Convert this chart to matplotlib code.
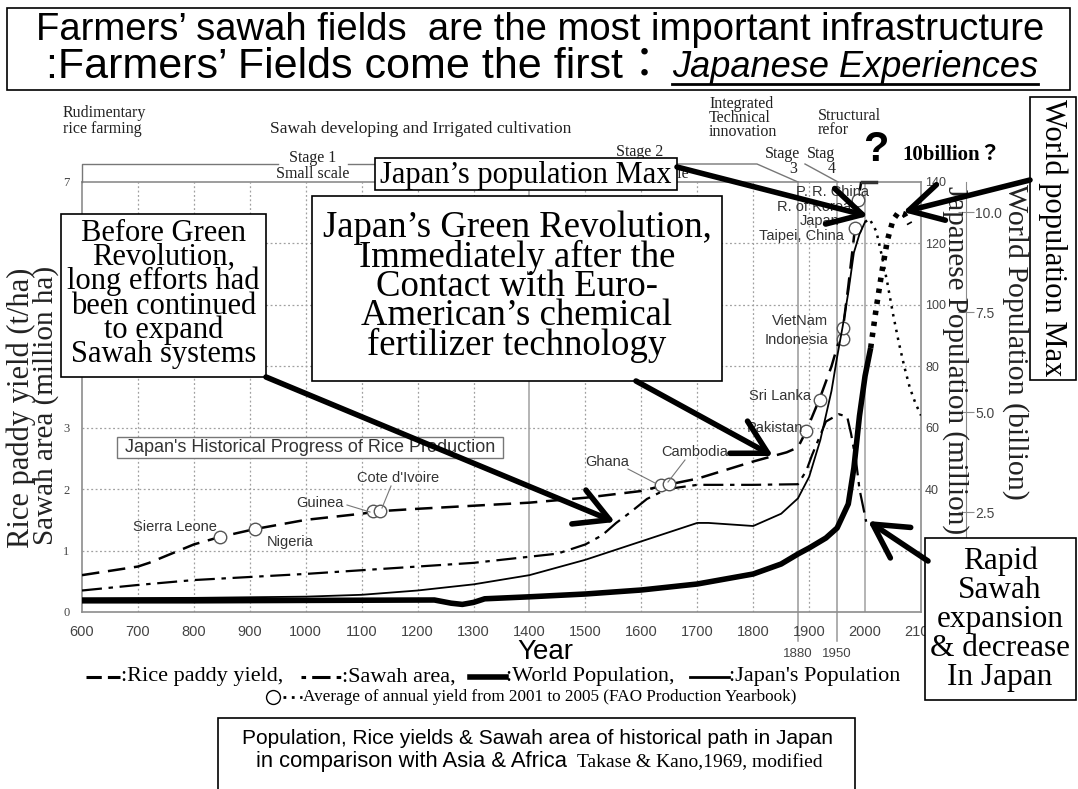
import numpy as np
import matplotlib.pyplot as plt
from matplotlib.patches import Rectangle

W, H = 1078, 789

# Japan rice paddy yield (t/ha)
yield_year = [600, 700, 720, 760, 800, 846, 909, 1000, 1100, 1130, 1200, 1300, 1400, 1500,
              1600, 1640, 1700, 1800, 1860, 1880, 1895, 1920, 1940, 1961, 1970, 1982, 1988, 1993]
yield_t = [0.6, 0.74, 0.8, 0.95, 1.1, 1.22, 1.35, 1.5, 1.6, 1.64, 1.68, 1.73, 1.78, 1.86,
           1.97, 2.06, 2.17, 2.45, 2.6, 2.68, 2.95, 3.5, 4.0, 4.65, 5.3, 6.25, 6.7, 7.0]

# sawah area (million ha)
area_year = [600, 700, 800, 900, 1000, 1100, 1200, 1300, 1370, 1450, 1500, 1530, 1555, 1580,
             1610, 1645, 1700, 1800, 1880, 1895, 1905, 1930, 1953, 1968, 1975, 1984, 1990, 2002]
area_mha = [0.35, 0.44, 0.52, 0.57, 0.62, 0.68, 0.74, 0.8, 0.87, 0.95, 1.1, 1.25, 1.45, 1.62,
            1.84, 2.0, 2.07, 2.07, 2.08, 2.3, 2.55, 3.1, 3.22, 3.18, 2.9, 2.45, 2.0, 1.47]

# Japan's population (million)
jp_year = [600, 800, 1000, 1100, 1200, 1300, 1400, 1500, 1550, 1600, 1650, 1700, 1720, 1800,
           1850, 1880, 1900, 1920, 1940, 1950, 1960, 1970, 1980, 1990, 2000]
jp_pop = [4.5, 4.6, 5.0, 5.6, 7.0, 9.0, 12, 17, 20, 23, 26, 29, 29, 28,
          32, 37, 44, 56, 72, 83, 93, 104, 117, 123, 127]
jp_proj_year = [2000, 2008, 2020, 2030, 2040, 2050, 2060, 2070, 2080, 2090, 2100]
jp_proj_pop = [127, 128, 124, 116, 107, 97, 88, 80, 73, 68, 64]

# world population (billion)
world_year = [600, 800, 1000, 1230, 1260, 1280, 1300, 1320, 1400, 1500, 1600, 1700, 1800,
              1850, 1880, 1900, 1930, 1950, 1970, 1980, 1990, 2000, 2010]
world_pop = [0.28, 0.28, 0.29, 0.30, 0.22, 0.19, 0.24, 0.33, 0.38, 0.45, 0.55, 0.7, 0.95,
             1.2, 1.45, 1.6, 1.85, 2.1, 2.7, 3.6, 4.9, 5.9, 6.6]
world_proj_year = [2010, 2020, 2030, 2040, 2050, 2060, 2070, 2080]
world_proj_pop = [6.6, 7.6, 8.5, 9.3, 9.8, 10.0, 9.95, 9.7]

# FAO 2001-2005 average yields placed on Japan's curve
fao_year = [846, 909, 1121, 1132, 1636, 1650, 1895, 1920, 1961, 1961, 1982, 1988]
fao_yield = [1.22, 1.35, 1.64, 1.64, 2.07, 2.08, 2.95, 3.45, 4.45, 4.63, 6.25, 6.7]

x_ticks = list(range(600, 2101, 100))
left_ticks = list(range(0, 8))
left_labels = ['0', '1', '2', '3', '', '', '', '7']      # 4-6 sit under the text box
jp_ticks = list(range(0, 141, 20))
jp_labels = ['', '', '40', '60', '80', '100', '120', '140']  # 0 and 20 sit under the text box
world_ticks = [2.5, 5.0, 7.5, 10.0]

serif = 'Liberation Serif'
sans = 'Liberation Sans'
grey = '#8c8c8c'
tgrey = '#444444'

fig = plt.figure(figsize=(W / 100, H / 100), dpi=100)

def fbox(x0, y0, x1, y1):
    return [x0 / W, 1 - y1 / H, (x1 - x0) / W, (y1 - y0) / H]

ax = fig.add_axes(fbox(82, 182, 921, 612))
ax.set_xlim(600, 2100)
ax.set_ylim(0, 7)
for s in ax.spines.values():
    s.set_color(grey)
    s.set_linewidth(1.2)
ax.set_xticks(x_ticks)
ax.set_xticklabels([str(t) for t in x_ticks], fontfamily=sans, fontsize=10.5, color=tgrey)
ax.set_yticks(left_ticks)
ax.set_yticklabels(left_labels, fontfamily=serif, fontsize=9, color=tgrey)
ax.tick_params(length=0, pad=9)

# grid
for yr in x_ticks[1:-1]:
    if yr in (1400, 2000):
        ax.axvline(yr, color='#a0a0a0', lw=1.1, zorder=1)
    else:
        ax.axvline(yr, color='#a0a0a0', lw=0.9, ls=(0, (1.5, 2)), zorder=1)
for yv in range(1, 7):
    ax.axhline(yv, color='#a0a0a0', lw=0.9, ls=(0, (1.5, 2)), zorder=1)
for yr in (1880, 1950):
    ax.plot([yr, yr], [-0.48, 7], color='#999999', lw=1.1, clip_on=False, zorder=1)
    ax.text(yr, -0.58, str(yr), ha='center', va='top', fontfamily=sans, fontsize=9.5, color=tgrey)

ax.plot(yield_year, yield_t, color='black', lw=1.8, ls=(0, (7, 3.5)), zorder=3)
ax.plot(area_year, area_mha, color='black', lw=1.6, ls=(0, (9, 3, 2, 3)), zorder=3)
ax.plot(fao_year, fao_yield, ls='none', marker='o', ms=9, mfc='white', mec='#555555', mew=1.0, zorder=4)
ax.plot([1995, 2020], [7, 7], color='#333333', lw=2.5, clip_on=False, zorder=4)

ax2 = ax.twinx()
ax2.set_ylim(0, 140)
ax2.set_yticks(jp_ticks)
ax2.set_yticklabels(jp_labels, fontfamily=sans, fontsize=9, color=tgrey)
ax2.tick_params(length=0, pad=3)
for s in ax2.spines.values():
    s.set_visible(False)
ax2.plot(jp_year, jp_pop, color='black', lw=1.3, zorder=3)
ax2.plot(jp_proj_year, jp_proj_pop, color='black', lw=1.8, ls=(0, (1, 2.2)), zorder=3)

ax3 = ax.twinx()
ax3.set_ylim(0, 10.75)
ax3.spines['right'].set_position(('axes', (966 - 82) / (921 - 82)))
for k in ('left', 'top', 'bottom'):
    ax3.spines[k].set_visible(False)
ax3.spines['right'].set_color(grey)
ax3.set_yticks(world_ticks)
ax3.set_yticklabels(['%.1f' % t for t in world_ticks], fontfamily=sans, fontsize=10, color=tgrey)
ax3.tick_params(direction='inout', length=11, color=grey, pad=1)
ax3.plot(world_year, world_pop, color='black', lw=4, solid_capstyle='butt', zorder=3)
ax3.plot(world_proj_year, world_proj_pop, color='black', lw=4, ls=(0, (0.8, 1.2)), zorder=3)

# overlay in pixel coordinates
ov = fig.add_axes([0, 0, 1, 1])
ov.set_xlim(0, W)
ov.set_ylim(H, 0)
ov.axis('off')
ov.set_zorder(10)
ov.patch.set_visible(False)

def box(x0, y0, x1, y1, lw=1.2, ec='black'):
    ov.add_patch(Rectangle((x0, y0), x1 - x0, y1 - y0, fc='white', ec=ec, lw=lw, zorder=2))

def arrow(x0, y0, x1, y1):
    ov.annotate('', xy=(x1, y1), xytext=(x0, y0),
                arrowprops=dict(arrowstyle='->,head_length=1.0,head_width=0.55', lw=4,
                                color='black', shrinkA=0, shrinkB=0, mutation_scale=24), zorder=6)

# title
box(7, 8, 1070, 90, lw=1.2)
ov.text(540, 30, "Farmers\u2019 sawah fields  are the most important infrastructure", ha='center', va='center',
        fontfamily=sans, fontsize=27.5, zorder=3)
t1 = ov.text(666, 67, ":Farmers\u2019 Fields come the first\uff1a", ha='right', va='center',
             fontfamily=[sans, 'Noto Sans CJK JP'], fontsize=31, zorder=3)
t2 = ov.text(672, 67, "Japanese Experiences", ha='left', va='center', style='italic',
             fontfamily=sans, fontsize=26, zorder=3)

# top stage annotations
small = dict(fontfamily=serif, fontsize=11.5, color='#222222', zorder=1)
ov.text(63, 121, "Rudimentary\nrice farming", ha='left', va='center', linespacing=0.95, **small)
ov.text(270, 129, "Sawah developing and Irrigated cultivation", ha='left', va='center',
        fontfamily=serif, fontsize=12.5, color='#222222', zorder=1)
ov.text(709, 118, "Integrated\nTechnical\ninnovation", ha='left', va='center', linespacing=0.82, **small)
ov.text(818, 123, "Structural\nrefor", ha='left', va='center', linespacing=0.85, **small)
ov.text(313, 158, "Stage 1", ha='center', va='center', **small)
ov.text(313, 174, "Small scale", ha='center', va='center', **small)
ov.text(640, 152, "Stage 2", ha='center', va='center', **small)
ov.text(652, 174, "Large scale", ha='center', va='center', **small)
ov.text(782, 154, "Stage", ha='center', va='center', **small)
ov.text(793, 169, "3", ha='center', va='center', **small)
ov.text(821, 154, "Stag", ha='center', va='center', **small)
ov.text(832, 169, "4", ha='center', va='center', **small)
bk = dict(color='#777777', lw=1.0, zorder=1)
ov.plot([82, 82, 278], [182, 164, 164], **bk)
ov.plot([348, 610], [164, 164], **bk)
ov.plot([672, 757, 798], [164, 164, 182], **bk)
ov.plot([805, 838], [164, 182], **bk)

ov.text(876, 150, "?", ha='center', va='center', fontfamily=sans, fontsize=30, fontweight='bold', zorder=3)
ov.text(952, 155, "10billion\uff1f", ha='center', va='center', fontfamily=[serif, 'Noto Sans CJK JP'],
        fontsize=15, fontweight='bold', zorder=3)

# annotation boxes
box(375, 158, 677, 190)
ov.text(526, 175, "Japan\u2019s population Max", ha='center', va='center', fontfamily=serif, fontsize=22, zorder=3)

box(312, 196, 722, 381)
ov.text(517, 287, "Japan\u2019s Green Revolution,\nImmediately after the\nContact with Euro-\n"
        "American\u2019s chemical\nfertilizer technology", ha='center', va='center',
        fontfamily=serif, fontsize=26.5, linespacing=0.8, zorder=3)

box(61, 214, 266, 377)
ov.text(163.5, 294, "Before Green\nRevolution,\nlong efforts had\nbeen continued\nto expand\nSawah systems",
        ha='center', va='center', fontfamily=serif, fontsize=22, linespacing=0.78, zorder=3)

box(117, 437, 503, 458, lw=1.0, ec='#777777')
ov.text(310, 447.5, "Japan's Historical Progress of Rice Production", ha='center', va='center',
        fontfamily=sans, fontsize=13, color='#333333', zorder=3)

box(1030, 97, 1076, 380)
ov.text(1053, 238, "World population Max", ha='center', va='center', rotation=-90,
        fontfamily=serif, fontsize=22, zorder=3)

box(925, 538, 1076, 700)
ov.text(1000, 619, "Rapid\nSawah\nexpansion\n& decrease\nIn Japan", ha='center', va='center',
        fontfamily=serif, fontsize=22.5, linespacing=1.0, zorder=3)

box(218, 718, 855, 800)
ov.text(538, 738, "Population, Rice yields & Sawah area of historical path in Japan", ha='center',
        va='center', fontfamily=sans, fontsize=15, zorder=3)
ov.text(256, 762, "in comparison with Asia & Africa", ha='left', va='center', fontfamily=sans,
        fontsize=15.8, zorder=3)
ov.text(577, 763, "Takase & Kano,1969, modified", ha='left', va='center', fontfamily=serif,
        fontsize=14, zorder=3)

# axis titles
ov.text(21, 408, "Rice paddy yield (t/ha)", ha='center', va='center', rotation=90,
        fontfamily=serif, fontsize=22, color='#222222', zorder=0)
ov.text(46, 405, "Sawah area (million ha)", ha='center', va='center', rotation=90,
        fontfamily=serif, fontsize=21, color='#222222', zorder=0)
ov.text(955, 186, "Japanese Population (million)", ha='center', va='top', rotation=-90,
        fontfamily=serif, fontsize=21, color='#222222', zorder=0)
ov.text(1015, 184, "World Population (billion)", ha='center', va='top', rotation=-90,
        fontfamily=serif, fontsize=21.5, color='#222222', zorder=0)
ov.text(545, 652, "Year", ha='center', va='center', fontfamily=sans, fontsize=20, zorder=3)

# country labels
cl = dict(fontfamily=sans, fontsize=10.5, color='#333333', zorder=3)
ov.text(175, 527, "Sierra Leone", ha='center', va='center', **cl)
ov.text(290, 542, "Nigeria", ha='center', va='center', **cl)
ov.text(320, 503, "Guinea", ha='center', va='center', **cl)
ov.text(398, 478, "Cote d'Ivoire", ha='center', va='center', **cl)
ov.text(607, 462, "Ghana", ha='center', va='center', **cl)
ov.text(695, 452, "Cambodia", ha='center', va='center', **cl)
ov.text(775, 428, "Pakistan", ha='center', va='center', **cl)
ov.text(780, 396, "Sri Lanka", ha='center', va='center', **cl)
ov.text(800, 321, "VietNam", ha='center', va='center', **cl)
ov.text(796, 340, "Indonesia", ha='center', va='center', **cl)
ov.text(832, 192, "P. R. China", ha='center', va='center', **cl)
ov.text(814, 207, "R. of Korea", ha='center', va='center', **cl)
ov.text(820, 221, "Japan", ha='center', va='center', **cl)
ov.text(801, 236, "Taipei, China", ha='center', va='center', **cl)
ld = dict(color='#777777', lw=0.8, zorder=1)
ov.plot([347, 370], [505, 512], **ld)
ov.plot([391, 382], [486, 508], **ld)
ov.plot([628, 655], [469, 483], **ld)
ov.plot([685, 668], [460, 482], **ld)

# arrows
arrow(266, 377, 615, 522)
arrow(636, 381, 773, 456)
arrow(677, 167, 868, 216)
arrow(1030, 180, 903, 212)
arrow(928, 561, 868, 521)

# legend
ly = 677
ov.plot([86, 120], [ly, ly], color='black', lw=2.2, ls=(0, (5, 2)))
ov.text(121, ly, ":Rice paddy yield,", ha='left', va='center', fontfamily=serif, fontsize=16)
ov.plot([301, 341], [ly, ly], color='black', lw=2.2, ls=(0, (1.5, 2, 6, 2, 1.5, 2)))
ov.text(342, ly, ":Sawah area,", ha='left', va='center', fontfamily=serif, fontsize=16)
ov.plot([470, 506], [ly, ly], color='black', lw=4)
ov.text(506, ly, ":World Population,", ha='left', va='center', fontfamily=serif, fontsize=16)
ov.plot([690, 729], [ly, ly], color='black', lw=2)
ov.text(729, ly, ":Japan's Population", ha='left', va='center', fontfamily=serif, fontsize=16)
ov.plot([273], [697], ls='none', marker='o', ms=10, mfc='white', mec='black', mew=1)
ov.plot([283, 302], [697, 697], color='black', lw=2, ls=(0, (1, 2)))
ov.text(303, 697, "Average of annual yield from 2001 to 2005 (FAO Production Yearbook)", ha='left',
        va='center', fontfamily=serif, fontsize=12.3)

# underline of the italic part
fig.canvas.draw()
bb = t2.get_window_extent().transformed(ov.transData.inverted())
ov.plot([bb.x0, bb.x1], [bb.y0 - 1, bb.y0 - 1], color='black', lw=2)

fig.savefig('out.png', dpi=100)
